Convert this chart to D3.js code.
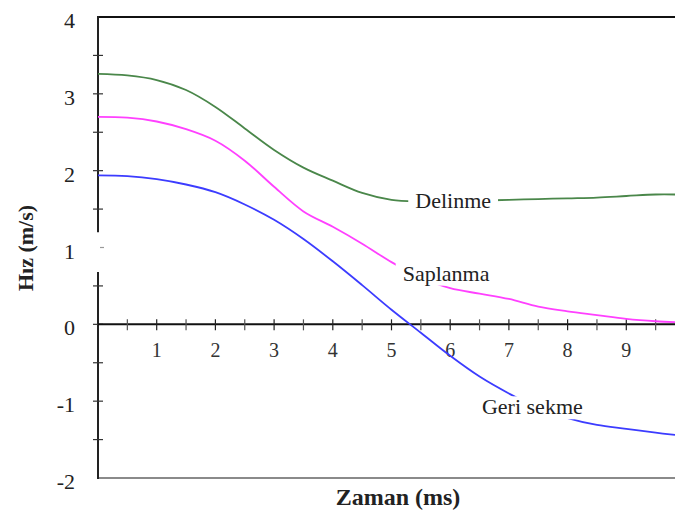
<!DOCTYPE html>
<html>
<head>
<meta charset="utf-8">
<script src="https://cdn.jsdelivr.net/npm/d3@7"></script>
</head>
<body style="margin:0">
<div id="vis"></div>
<script>
var width = 675;
var height = 510;

// data
var zaman = [0, 0.5, 1, 1.5, 2, 2.5, 3, 3.5, 4, 4.5, 5, 5.5, 6, 6.5, 7, 7.5, 8, 8.5, 9, 9.5, 9.83];
var delinme = [3.26, 3.24, 3.18, 3.05, 2.83, 2.55, 2.27, 2.04, 1.87, 1.71, 1.62, 1.60, 1.60, 1.61, 1.62, 1.63, 1.64, 1.65, 1.67, 1.69, 1.69];
var saplanma = [2.70, 2.69, 2.64, 2.54, 2.39, 2.13, 1.79, 1.47, 1.27, 1.05, 0.81, 0.61, 0.47, 0.40, 0.33, 0.23, 0.17, 0.12, 0.07, 0.04, 0.03];
var geriSekme = [1.94, 1.93, 1.89, 1.82, 1.72, 1.56, 1.36, 1.11, 0.82, 0.51, 0.19, -0.11, -0.41, -0.68, -0.90, -1.09, -1.22, -1.31, -1.36, -1.41, -1.44];
var xTickLabels = [1, 2, 3, 4, 5, 6, 7, 8, 9];
var yTickLabels = [4, 3, 2, 1, 0, -1, -2];

var series = [
  { name: "Delinme", values: delinme, color: "#4a874a", labelAt: 6.05, labelY: 1.60 },
  { name: "Saplanma", values: saplanma, color: "#ff40ff", labelAt: 5.93, labelY: 0.66 },
  { name: "Geri sekme", values: geriSekme, color: "#3c3cff", labelAt: 7.4, labelY: -1.08 }
];

var svg = d3.select('#vis')
  .append('svg')
  .attr('width', width)
  .attr('height', height);

var x = d3.scaleLinear()
  .domain([0, 10])
  .range([98, 685]);

var y = d3.scaleLinear()
  .domain([-2, 4])
  .range([478, 17]);

// frame: top black, bottom grey
svg.append('line')
  .attr('x1', x(0)).attr('x2', width)
  .attr('y1', y(4)).attr('y2', y(4))
  .attr('stroke', '#111').attr('stroke-width', 2);

svg.append('line')
  .attr('x1', x(0)).attr('x2', width)
  .attr('y1', y(-2)).attr('y2', y(-2))
  .attr('stroke', '#8a8a8a').attr('stroke-width', 2);

// left axis, with the small gap around 1
svg.append('line')
  .attr('x1', x(0)).attr('x2', x(0))
  .attr('y1', y(4) - 1).attr('y2', y(1.2))
  .attr('stroke', '#222').attr('stroke-width', 2);
svg.append('line')
  .attr('x1', x(0)).attr('x2', x(0))
  .attr('y1', y(0.68)).attr('y2', y(-2) + 1)
  .attr('stroke', '#222').attr('stroke-width', 2);

var yMinor = d3.range(-1.5, 4, 0.5);
svg.selectAll('.ytick')
  .data(yMinor)
  .enter()
  .append('line')
  .attr('class', 'ytick')
  .attr('x1', function(d) { return d === 1 ? x(0) + 2 : x(0) - 5; })
  .attr('x2', function(d) { return d === 1 ? x(0) + 6 : x(0) + 5; })
  .attr('y1', function(d) { return y(d); })
  .attr('y2', function(d) { return y(d); })
  .attr('stroke', function(d) { return d === 1 ? '#999' : '#333'; })
  .attr('stroke-width', 1.2);

svg.selectAll('.ylabel')
  .data(yTickLabels)
  .enter()
  .append('text')
  .attr('class', 'ylabel')
  .attr('x', 75)
  .attr('y', function(d) { return y(d) + 11; })
  .attr('text-anchor', 'end')
  .style('font-family', 'serif')
  .style('font-size', '22px')
  .attr('fill', '#222')
  .text(function(d) { return d; });

// x axis along zero
svg.append('line')
  .attr('x1', x(0)).attr('x2', width)
  .attr('y1', y(0)).attr('y2', y(0))
  .attr('stroke', '#111').attr('stroke-width', 2);

var xMinor = d3.range(0.5, 10, 0.5);
svg.selectAll('.xtick')
  .data(xMinor)
  .enter()
  .append('line')
  .attr('class', 'xtick')
  .attr('x1', function(d) { return x(d); })
  .attr('x2', function(d) { return x(d); })
  .attr('y1', y(0) - 5)
  .attr('y2', y(0) + 6)
  .attr('stroke', function(d) { return d % 1 === 0 ? '#222' : '#555'; })
  .attr('stroke-width', 1.2);

svg.selectAll('.xlabel')
  .data(xTickLabels)
  .enter()
  .append('text')
  .attr('class', 'xlabel')
  .attr('x', function(d) { return x(d); })
  .attr('y', y(0) + 33)
  .attr('text-anchor', 'middle')
  .style('font-family', 'serif')
  .style('font-size', '20px')
  .attr('fill', '#333')
  .text(function(d) { return d; });

// curves
var line = d3.line()
  .x(function(d) { return x(d[0]); })
  .y(function(d) { return y(d[1]); })
  .curve(d3.curveCatmullRom.alpha(0.5));

series.forEach(function(s) {
  var pts = zaman.map(function(t, i) { return [t, s.values[i]]; });
  svg.append('path')
    .datum(pts)
    .attr('fill', 'none')
    .attr('stroke', s.color)
    .attr('stroke-width', 1.8)
    .attr('d', line);
});

// labels sit on a white box that cuts the line
series.forEach(function(s) {
  var g = svg.append('g');
  var t = g.append('text')
    .attr('x', x(s.labelAt))
    .attr('y', y(s.labelY) + 7)
    .attr('text-anchor', 'middle')
    .style('font-family', 'serif')
    .style('font-size', '22px')
    .attr('fill', '#222')
    .text(s.name);
  var b = t.node().getBBox();
  g.insert('rect', 'text')
    .attr('x', b.x - 7)
    .attr('y', b.y + 2)
    .attr('width', b.width + 14)
    .attr('height', b.height - 2)
    .attr('fill', '#fff');
});

// axis titles
svg.append('text')
  .attr('x', 398)
  .attr('y', 505)
  .attr('text-anchor', 'middle')
  .style('font-family', 'serif')
  .style('font-size', '24px')
  .style('font-weight', 'bold')
  .attr('fill', '#222')
  .text('Zaman (ms)');

svg.append('text')
  .attr('text-anchor', 'middle')
  .attr('transform', 'translate(33,248)rotate(-90)')
  .style('font-family', 'serif')
  .style('font-size', '22px')
  .style('font-weight', 'bold')
  .attr('fill', '#222')
  .text('Hız (m/s)');
</script>
</body>
</html>
